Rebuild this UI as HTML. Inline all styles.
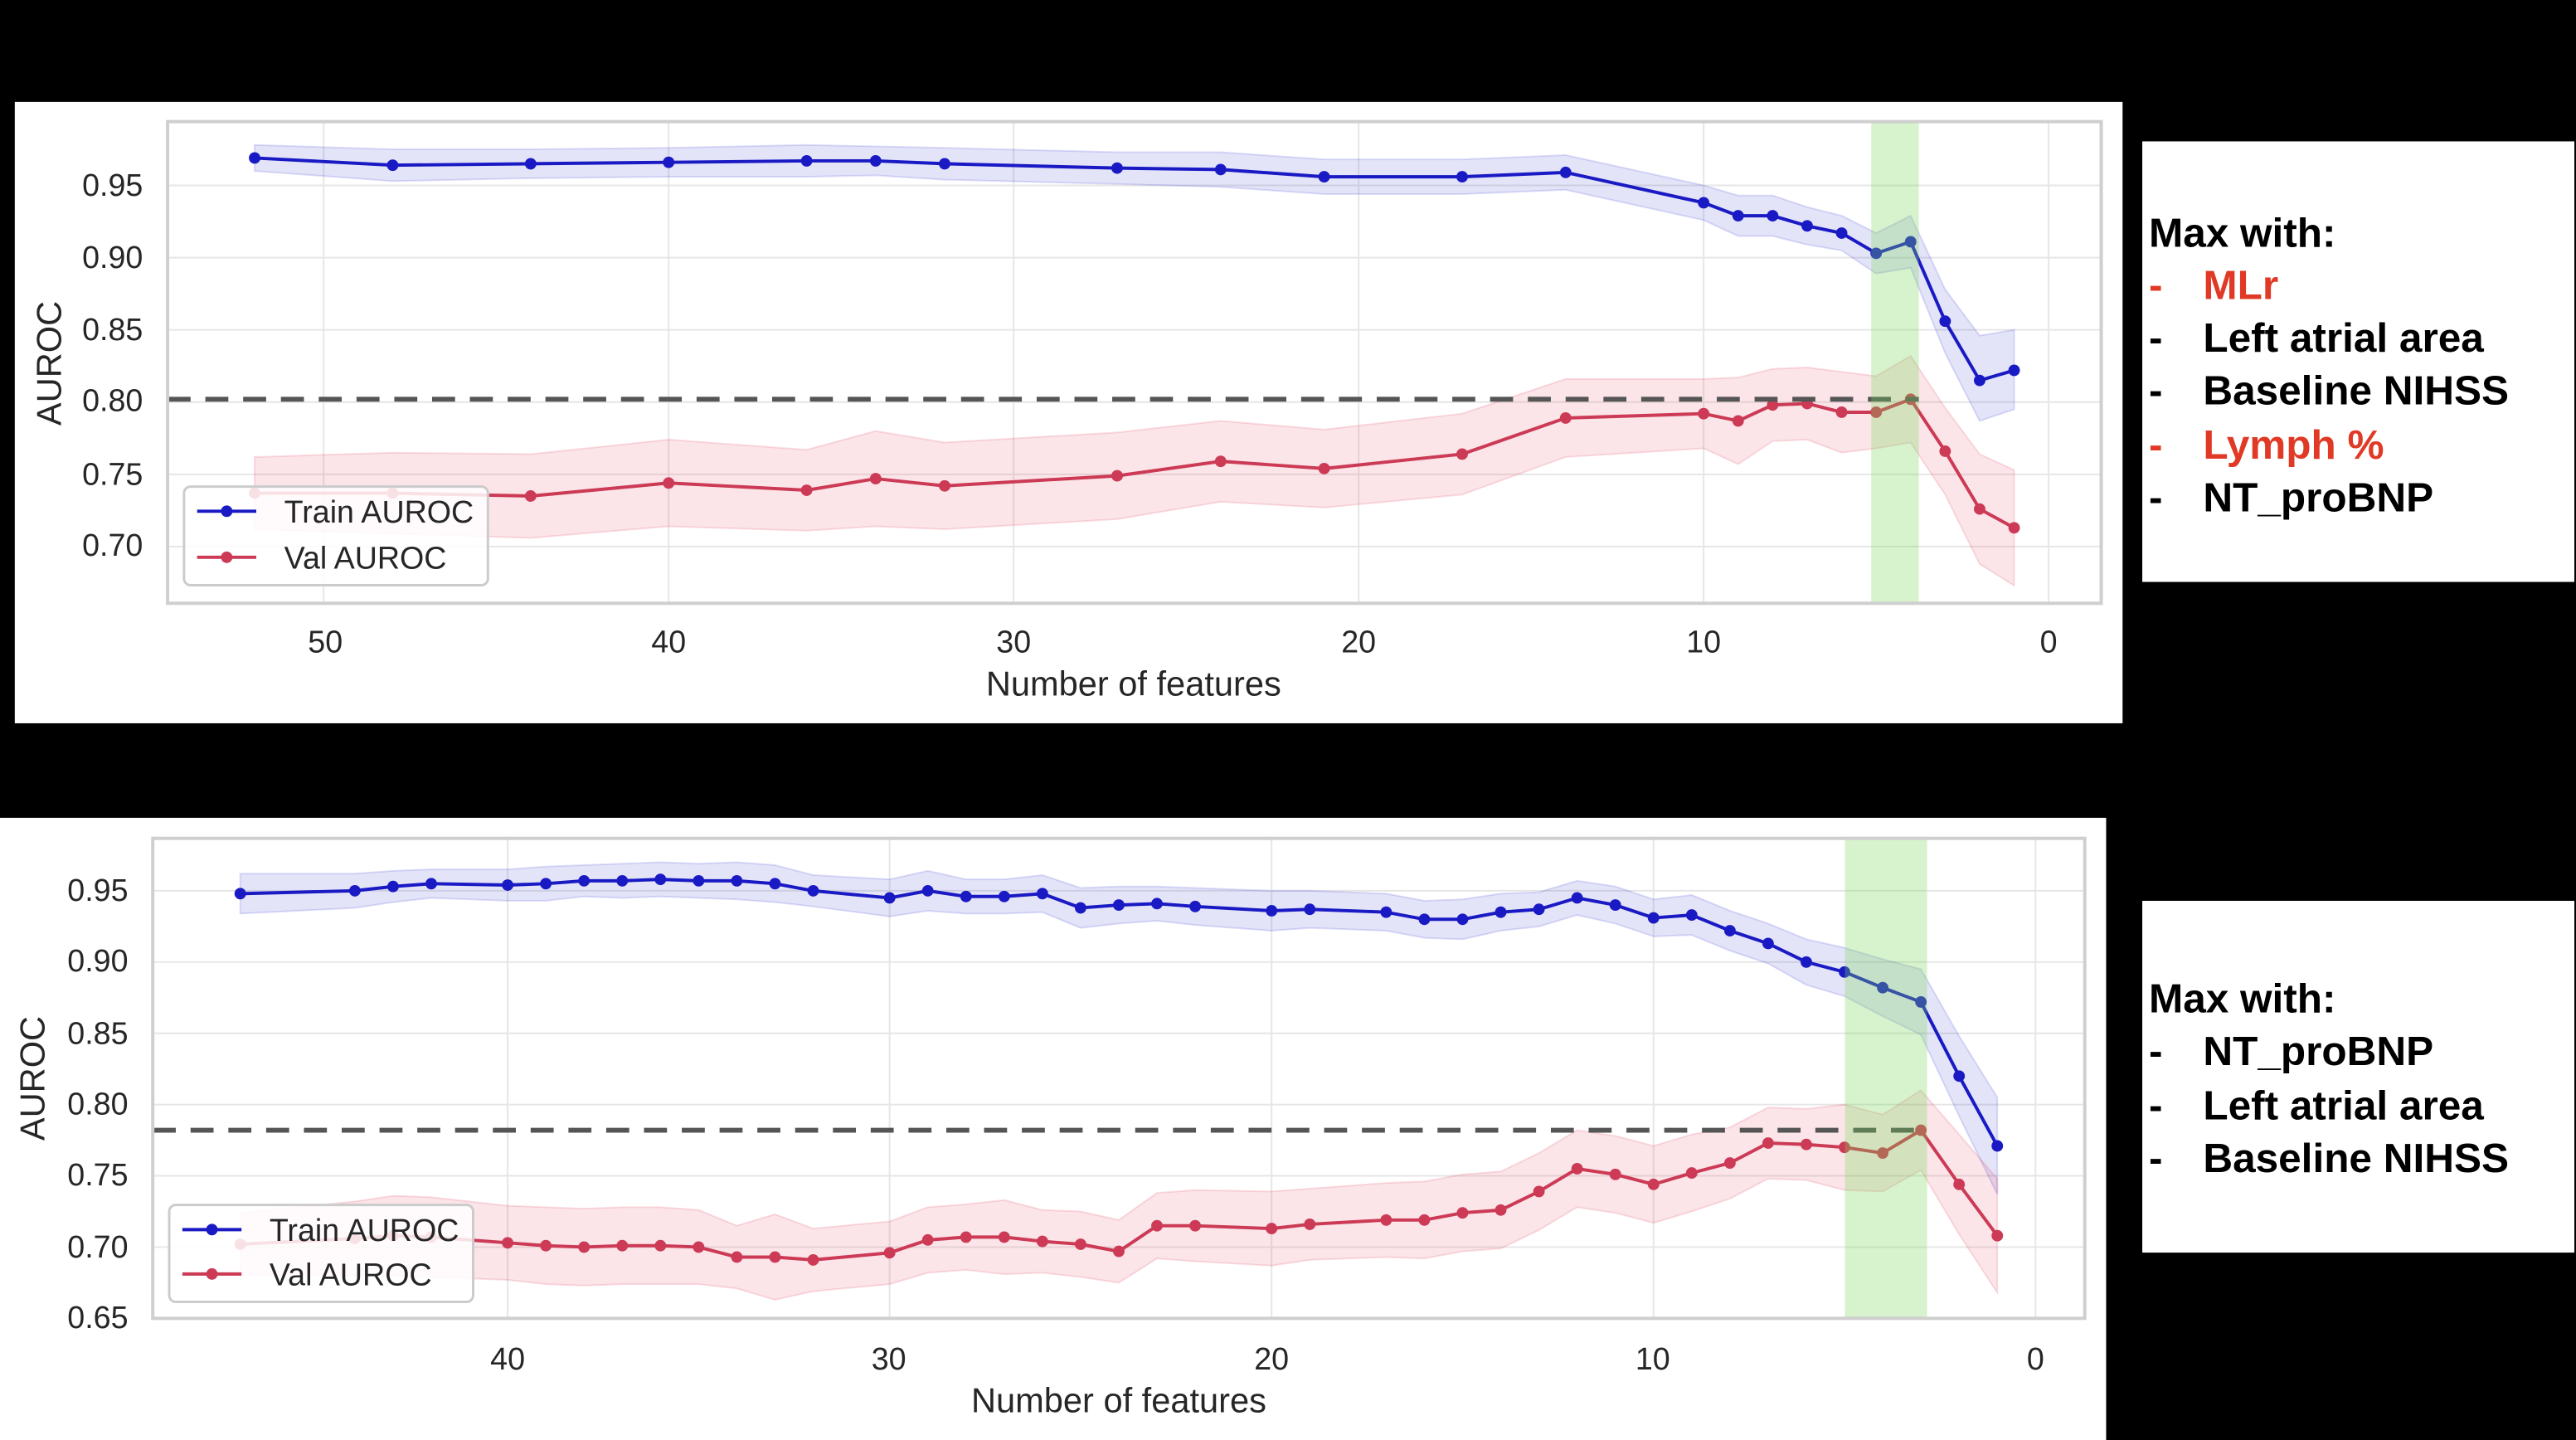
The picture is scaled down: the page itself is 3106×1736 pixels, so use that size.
<!DOCTYPE html>
<html><head><meta charset="utf-8"><style>
html,body{margin:0;padding:0;background:#000;}
svg{display:block;}
text{font-family:"Liberation Sans",Arial,sans-serif;}
</style></head><body>
<svg id="s" width="3106" height="1736" viewBox="0 0 1568 876" preserveAspectRatio="none" xmlns="http://www.w3.org/2000/svg">
<rect x="0" y="0" width="1568" height="876" fill="#000"/>
<rect x="9" y="62" width="1283" height="378" fill="#fff"/>
<rect x="0" y="497.5" width="1282" height="379" fill="#fff"/>
<rect x="1304" y="86" width="263" height="268" fill="#fff"/>
<rect x="1304" y="548" width="263" height="214" fill="#fff"/>
<g id="top"></g>
<g id="bot"></g>
<g font-size="19" fill="#262626">
<text x="87" y="119" text-anchor="end">0.95</text>
<text x="87" y="163" text-anchor="end">0.90</text>
<text x="87" y="207" text-anchor="end">0.85</text>
<text x="87" y="250" text-anchor="end">0.80</text>
<text x="87" y="295" text-anchor="end">0.75</text>
<text x="87" y="338" text-anchor="end">0.70</text>
<text x="198" y="397" text-anchor="middle">50</text>
<text x="407" y="397" text-anchor="middle">40</text>
<text x="617" y="397" text-anchor="middle">30</text>
<text x="827" y="397" text-anchor="middle">20</text>
<text x="1037" y="397" text-anchor="middle">10</text>
<text x="1247" y="397" text-anchor="middle">0</text>
<text x="690" y="423" text-anchor="middle" font-size="21">Number of features</text>
<text transform="translate(37,221) rotate(-90)" text-anchor="middle" font-size="21">AUROC</text>
</g>
<g font-size="19" fill="#262626">
<text x="78" y="548" text-anchor="end">0.95</text>
<text x="78" y="591" text-anchor="end">0.90</text>
<text x="78" y="635" text-anchor="end">0.85</text>
<text x="78" y="678" text-anchor="end">0.80</text>
<text x="78" y="721" text-anchor="end">0.75</text>
<text x="78" y="765" text-anchor="end">0.70</text>
<text x="78" y="808" text-anchor="end">0.65</text>
<text x="309" y="833" text-anchor="middle">40</text>
<text x="541" y="833" text-anchor="middle">30</text>
<text x="774" y="833" text-anchor="middle">20</text>
<text x="1006" y="833" text-anchor="middle">10</text>
<text x="1239" y="833" text-anchor="middle">0</text>
<text x="681" y="859" text-anchor="middle" font-size="21">Number of features</text>
<text transform="translate(27,656) rotate(-90)" text-anchor="middle" font-size="21">AUROC</text>
</g>
<g>
<rect x="112" y="296" width="185" height="60" rx="4" fill="#fff" fill-opacity="0.85" stroke="#ccc" stroke-width="1.5"/>
<line x1="120" y1="311" x2="156" y2="311" stroke="#1a1ac4" stroke-width="2"/><circle cx="138" cy="311" r="3.5" fill="#1a1ac4"/>
<line x1="120" y1="339" x2="156" y2="339" stroke="#cc3a55" stroke-width="2"/><circle cx="138" cy="339" r="3.5" fill="#cc3a55"/>
<text x="173" y="318" font-size="19" fill="#262626">Train AUROC</text>
<text x="173" y="346" font-size="19" fill="#262626">Val AUROC</text>
</g>
<g>
<rect x="103" y="733" width="185" height="59" rx="4" fill="#fff" fill-opacity="0.85" stroke="#ccc" stroke-width="1.5"/>
<line x1="111" y1="748" x2="147" y2="748" stroke="#1a1ac4" stroke-width="2"/><circle cx="129" cy="748" r="3.5" fill="#1a1ac4"/>
<line x1="111" y1="775" x2="147" y2="775" stroke="#cc3a55" stroke-width="2"/><circle cx="129" cy="775" r="3.5" fill="#cc3a55"/>
<text x="164" y="755" font-size="19" fill="#262626">Train AUROC</text>
<text x="164" y="782" font-size="19" fill="#262626">Val AUROC</text>
</g>
<g font-size="25" font-weight="bold" fill="#000">
<text x="1308" y="150">Max with:</text>
<text x="1308" y="182" fill="#e03a26">-</text><text x="1341" y="182" fill="#e03a26">MLr</text>
<text x="1308" y="214">-</text><text x="1341" y="214">Left atrial area</text>
<text x="1308" y="246">-</text><text x="1341" y="246">Baseline NIHSS</text>
<text x="1308" y="279" fill="#e03a26">-</text><text x="1341" y="279" fill="#e03a26">Lymph %</text>
<text x="1308" y="311">-</text><text x="1341" y="311">NT_proBNP</text>
<text x="1308" y="616">Max with:</text>
<text x="1308" y="648">-</text><text x="1341" y="648">NT_proBNP</text>
<text x="1308" y="681">-</text><text x="1341" y="681">Left atrial area</text>
<text x="1308" y="713">-</text><text x="1341" y="713">Baseline NIHSS</text>
</g>
<script>
(function(){
var NS="http://www.w3.org/2000/svg";
function el(g,t,a){var e=document.createElementNS(NS,t);for(var k in a)e.setAttribute(k,a[k]);g.appendChild(e);return e;}
function panel(g,P){
  P.yt.forEach(function(v){var y=P.Y(v);el(g,"line",{x1:P.L,x2:P.R,y1:y,y2:y,stroke:"#e6e6e6","stroke-width":1});});
  P.xt.forEach(function(n){var x=P.X(n);el(g,"line",{x1:x,x2:x,y1:P.T,y2:P.B,stroke:"#e6e6e6","stroke-width":1});});
  function band(d,col){var up=[],lo=[];d.forEach(function(p){up.push(P.X(p[0])+","+P.Y(p[1]+p[2]));lo.unshift(P.X(p[0])+","+P.Y(p[1]-(p[3]!==undefined?p[3]:p[2])));});
    el(g,"polygon",{points:up.concat(lo).join(" "),fill:col,"fill-opacity":0.12,stroke:col,"stroke-opacity":0.15,"stroke-width":1});}
  function line(d,col){el(g,"polyline",{points:d.map(function(p){return P.X(p[0])+","+P.Y(p[1]);}).join(" "),fill:"none",stroke:col,"stroke-width":2});
    d.forEach(function(p){el(g,"circle",{cx:P.X(p[0]),cy:P.Y(p[1]),r:3.5,fill:col});});}
  band(P.tr,"#2020d0");band(P.va,"#dc2848");
  line(P.tr,"#1a1ac4");line(P.va,"#cc3a55");
  el(g,"line",{x1:P.L,x2:P.dashEnd,y1:P.Y(P.dash),y2:P.Y(P.dash),stroke:"#555","stroke-width":3,"stroke-dasharray":"14,9"});
  el(g,"rect",{x:P.g0,y:P.T,width:P.g1-P.g0,height:P.B-P.T,fill:"#7ad85a","fill-opacity":0.3});
  el(g,"rect",{x:P.L,y:P.T,width:P.R-P.L,height:P.B-P.T,fill:"none",stroke:"#cfcfcf","stroke-width":2});
}
var topTr=[[52,.969,.009],[48,.964,.011],[44,.965,.01],[40,.966,.01],[36,.967,.011],[34,.967,.01],[32,.965,.011],[27,.962,.011],[24,.961,.012],[21,.956,.012],[17,.956,.012],[14,.959,.012],[10,.938,.012],[9,.929,.014],[8,.929,.014],[7,.922,.013],[6,.917,.012],[5,.903,.014],[4,.911,.018],[3,.856,.022],[2,.815,.031,.028],[1,.822,.028,.027]];
var topVa=[[52,.737,.025],[48,.737,.028],[44,.735,.029],[40,.744,.03],[36,.739,.028],[34,.747,.033],[32,.742,.03],[27,.749,.03],[24,.759,.028],[21,.754,.027],[17,.764,.028],[14,.789,.027],[10,.792,.024],[9,.787,.03],[8,.798,.025],[7,.799,.025],[6,.793,.028],[5,.793,.025],[4,.802,.03],[3,.766,.03],[2,.726,.038],[1,.713,.04]];
panel(document.getElementById("top"),{L:102,R:1279,T:74,B:367,X:function(n){return 1247-21*n;},Y:function(v){return 332.5-(v-0.7)*878.8;},
 yt:[.7,.75,.8,.85,.9,.95],xt:[50,40,30,20,10,0],tr:topTr,va:topVa,dash:.802,dashEnd:1168,g0:1139,g1:1168});
var bTr=[[47,.948,.014],[44,.950,.012],[43,.953,.011],[42,.955,.01],[40,.954,.011],[39,.955,.012],[38,.957,.011],[37,.957,.012],[36,.958,.012],[35,.957,.012],[34,.957,.013],[33,.955,.013],[32,.950,.011],[30,.945,.013],[29,.950,.014],[28,.946,.012],[27,.946,.012],[26,.948,.013],[25,.938,.014],[24,.940,.013],[23,.941,.012],[22,.939,.013],[20,.936,.014],[19,.937,.013],[17,.935,.013],[16,.930,.013],[15,.930,.014],[14,.935,.013],[13,.937,.012],[12,.945,.012],[11,.940,.013],[10,.931,.013],[9,.933,.014],[8,.922,.014],[7,.913,.014],[6,.900,.016],[5,.893,.017],[4,.882,.02],[3,.872,.023],[2,.820,.028],[1,.771,.034]];
var bVa=[[47,.702,.022],[44,.706,.026],[43,.708,.028],[42,.707,.028],[40,.703,.026],[39,.701,.027],[38,.700,.027],[37,.701,.027],[36,.701,.027],[35,.700,.026],[34,.693,.022],[33,.693,.03],[32,.691,.022],[30,.696,.022],[29,.705,.023],[28,.707,.023],[27,.707,.026],[26,.704,.022],[25,.702,.023],[24,.697,.022],[23,.715,.023],[22,.715,.025],[20,.713,.026],[19,.716,.025],[17,.719,.026],[16,.719,.027],[15,.724,.027],[14,.726,.027],[13,.739,.027],[12,.755,.027],[11,.751,.027],[10,.744,.027],[9,.752,.027],[8,.759,.025],[7,.773,.025],[6,.772,.025],[5,.770,.03],[4,.766,.027],[3,.782,.028],[2,.744,.035],[1,.708,.04]];
panel(document.getElementById("bot"),{L:93,R:1269,T:510,B:802,X:function(n){return 1239-23.25*n;},Y:function(v){return 802-(v-0.65)*867;},
 yt:[.65,.7,.75,.8,.85,.9,.95],xt:[40,30,20,10,0],tr:bTr,va:bVa,dash:.782,dashEnd:1173,g0:1123,g1:1173});
})();
</script>
</svg>
</body></html>
